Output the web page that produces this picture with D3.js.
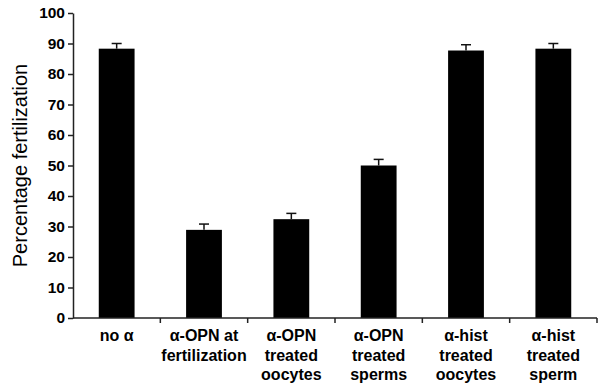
<!DOCTYPE html>
<html>
<head>
<meta charset="utf-8">
<script src="https://cdn.jsdelivr.net/npm/d3@7"></script>
<style>
  body { margin: 0; background: #fff; }
  svg { display: block; font-family: Arial, "Liberation Sans", sans-serif; }
</style>
</head>
<body>
<div id="chart"></div>
<script>
// categories, one label line per entry
const categories = [
  ["no α"],
  ["α-OPN at", "fertilization"],
  ["α-OPN", "treated", "oocytes"],
  ["α-OPN", "treated", "sperms"],
  ["α-hist", "treated", "oocytes"],
  ["α-hist", "treated", "sperm"]
];
const values = [88.3, 28.9, 32.4, 50.0, 87.7, 88.3];
const errors = [1.7, 1.9, 1.9, 2.0, 1.9, 1.7];
const yTicks = [0, 10, 20, 30, 40, 50, 60, 70, 80, 90, 100];

const width = 601, height = 385;
const margin = {top: 13, right: 4, bottom: 67, left: 73};

const svg = d3.select("#chart")
  .append("svg")
  .attr("width", width)
  .attr("height", height);

const x = d3.scaleBand()
  .domain(d3.range(categories.length))
  .range([margin.left, width - margin.right])
  .paddingInner(0.59)
  .paddingOuter(0.295);

const y = d3.scaleLinear()
  .domain([0, 100])
  .range([height - margin.bottom, margin.top]);

// bars
svg.selectAll("rect.bar")
  .data(values)
  .enter()
  .append("rect")
  .attr("class", "bar")
  .attr("x", (d, i) => x(i))
  .attr("y", d => y(d))
  .attr("width", x.bandwidth())
  .attr("height", d => y(0) - y(d))
  .attr("fill", "#000");

// error bars (upper half only)
const err = svg.selectAll("g.err")
  .data(values)
  .enter()
  .append("g")
  .attr("class", "err")
  .attr("stroke", "#111")
  .attr("stroke-width", 1.5);
err.append("line")
  .attr("x1", (d, i) => x(i) + x.bandwidth() / 2)
  .attr("x2", (d, i) => x(i) + x.bandwidth() / 2)
  .attr("y1", d => y(d))
  .attr("y2", (d, i) => y(d + errors[i]));
err.append("line")
  .attr("x1", (d, i) => x(i) + x.bandwidth() / 2 - 5)
  .attr("x2", (d, i) => x(i) + x.bandwidth() / 2 + 5)
  .attr("y1", (d, i) => y(d + errors[i]))
  .attr("y2", (d, i) => y(d + errors[i]));

// y axis
const yAxis = svg.append("g")
  .attr("transform", `translate(${margin.left},0)`)
  .call(d3.axisLeft(y).tickValues(yTicks).tickSize(5).tickPadding(3).tickSizeOuter(0));
yAxis.select(".domain").attr("stroke", "#222").attr("stroke-width", 1.5);
yAxis.selectAll(".tick line").attr("stroke", "#222").attr("stroke-width", 1.5);
yAxis.selectAll(".tick text")
  .attr("fill", "#000")
  .style("font-size", "15.5px")
  .style("font-weight", "bold");

// x axis: line plus ticks at category boundaries
const x0 = margin.left, x1 = width - margin.right;
svg.append("line")
  .attr("x1", x0).attr("x2", x1)
  .attr("y1", y(0)).attr("y2", y(0))
  .attr("stroke", "#222").attr("stroke-width", 1.5);
svg.selectAll("line.xtick")
  .data(d3.range(1, categories.length + 1))
  .enter()
  .append("line")
  .attr("class", "xtick")
  .attr("x1", i => x0 + i * x.step())
  .attr("x2", i => x0 + i * x.step())
  .attr("y1", y(0))
  .attr("y2", y(0) + 5)
  .attr("stroke", "#222").attr("stroke-width", 1.5);

// category labels
const labels = svg.selectAll("text.cat")
  .data(categories)
  .enter()
  .append("text")
  .attr("class", "cat")
  .attr("text-anchor", "middle")
  .style("font-size", "16px")
  .style("font-weight", "bold")
  .attr("fill", "#000");
labels.selectAll("tspan")
  .data((d, i) => d.map(t => ({t, i})))
  .enter()
  .append("tspan")
  .attr("x", d => x(d.i) + x.bandwidth() / 2)
  .attr("y", (d, j) => 341 + j * 19.5)
  .text(d => d.t);

// y title
svg.append("text")
  .attr("transform", `translate(27,${(y(0) + y(100)) / 2}) rotate(-90)`)
  .attr("text-anchor", "middle")
  .style("font-size", "20px")
  .attr("fill", "#000")
  .text("Percentage fertilization");
</script>
</body>
</html>
